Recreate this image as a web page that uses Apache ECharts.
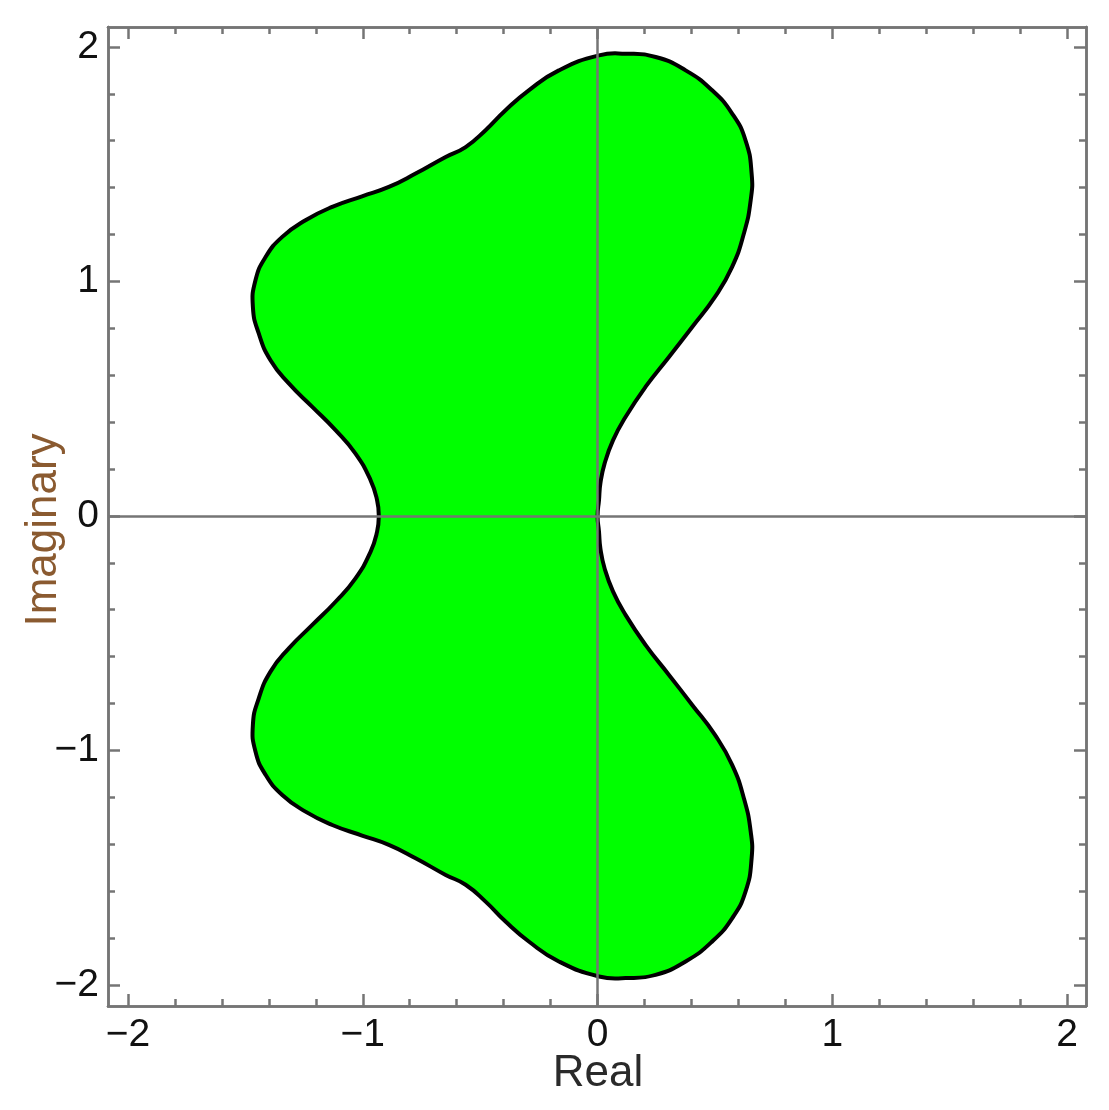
<!DOCTYPE html>
<html>
<head>
<meta charset="utf-8">
<script src="https://cdn.jsdelivr.net/npm/echarts@6/dist/echarts.min.js"></script>
<style>
  html, body { margin: 0; padding: 0; background: #fff; }
  #chart { width: 1109px; height: 1110px; }
</style>
</head>
<body>
<div id="chart"></div>
<script>
// upper half of the boundary, from the origin round the top to the left crossing
const re = [0, 0.006, 0.012, 0.030, 0.066, 0.119, 0.204, 0.304, 0.403, 0.500, 0.573, 0.623, 0.652, 0.656,
  0.630, 0.573, 0.488, 0.375, 0.247, 0.119, 0.006, -0.165, -0.293, -0.392, -0.477, -0.562, -0.647, -0.775,
  -0.889, -1.003, -1.130, -1.244, -1.343, -1.414, -1.457, -1.468, -1.443, -1.393, -1.315, -1.215, -1.116,
  -1.031, -0.967, -0.939, -0.932]
const im = [0, 0.067, 0.139, 0.224, 0.323, 0.422, 0.550, 0.678, 0.806, 0.934, 1.062, 1.204, 1.346, 1.460,
  1.602, 1.716, 1.815, 1.900, 1.957, 1.971, 1.964, 1.900, 1.815, 1.730, 1.645, 1.573, 1.531, 1.460,
  1.403, 1.363, 1.318, 1.261, 1.190, 1.104, 1.005, 0.891, 0.778, 0.664, 0.565, 0.465, 0.366,
  0.266, 0.153, 0.067, 0]

const majorTicks = [-2, -1, 0, 1, 2]
const minorTicks = [-1.8, -1.6, -1.4, -1.2, -0.8, -0.6, -0.4, -0.2, 0.2, 0.4, 0.6, 0.8, 1.2, 1.4, 1.6, 1.8]
const xRange = [-2.085, 2.08]
const yRange = [-2.09, 2.085]

// region is symmetric about the real axis: mirror the upper half
let outline = []
re.forEach((x, i) => outline.push([x, im[i]]))
for (let i = re.length - 2; i > 0; i--) {
  outline.push([re[i], -im[i]])
}

const frameColor = '#757575'
const labelFont = {fontFamily: 'Liberation Sans', fontSize: 39, color: '#111'}

function makeAxis (pos, range, ticks, len, withLabel, idx) {
  return {
    type: 'value',
    position: pos,
    min: range[0],
    max: range[1],
    gridIndex: 0,
    axisLine: {show: true, onZero: false, lineStyle: {color: frameColor, width: 2.5}},
    axisTick: {show: true, inside: true, length: len, customValues: ticks, lineStyle: {color: frameColor, width: 2.5}},
    axisLabel: withLabel ? Object.assign({
      show: true,
      customValues: majorTicks,
      margin: idx === 'x' ? 10 : 9,
      formatter: v => String(v).replace('-', '\u2212')
    }, labelFont) : {show: false},
    splitLine: {show: false}
  }
}

let chart = echarts.init(document.getElementById('chart'))
let option = {
  backgroundColor: '#fff',
  animation: false,
  grid: {left: 108, right: 23, top: 27, bottom: 104, outerBoundsMode: 'none'},
  xAxis: [
    makeAxis('bottom', xRange, majorTicks, 12, true, 'x'),
    makeAxis('bottom', xRange, minorTicks, 7, false),
    makeAxis('top', xRange, majorTicks, 12, false),
    makeAxis('top', xRange, minorTicks, 7, false)
  ],
  yAxis: [
    makeAxis('left', yRange, majorTicks, 12, true, 'y'),
    makeAxis('left', yRange, minorTicks, 7, false),
    makeAxis('right', yRange, majorTicks, 12, false),
    makeAxis('right', yRange, minorTicks, 7, false)
  ],
  graphic: [
    {
      type: 'text', x: 598, y: 1052,
      style: {text: 'Real', fontFamily: 'Liberation Sans', fontSize: 44, fill: '#2a2a2a', align: 'center', verticalAlign: 'top'}
    },
    {
      type: 'text', x: 44, y: 530, rotation: Math.PI / 2,
      style: {text: 'Imaginary', fontFamily: 'Liberation Sans', fontSize: 44, fill: '#8a5a30', align: 'center', verticalAlign: 'middle'}
    }
  ],
  series: [
    {
      type: 'custom',
      xAxisIndex: 0,
      yAxisIndex: 0,
      data: [[0, 0]],
      renderItem: function (params, api) {
        let pts = outline.map(p => api.coord(p))
        return {
          type: 'polygon',
          shape: {points: pts, smooth: 0.5},
          style: {fill: '#00ff00', stroke: '#000', lineWidth: 4, lineJoin: 'round'}
        }
      },
      markLine: {
        silent: true,
        symbol: 'none',
        label: {show: false},
        lineStyle: {color: frameColor, width: 2.5, type: 'solid'},
        data: [{xAxis: 0}, {yAxis: 0}]
      }
    }
  ]
}
chart.setOption(option)
</script>
</body>
</html>
